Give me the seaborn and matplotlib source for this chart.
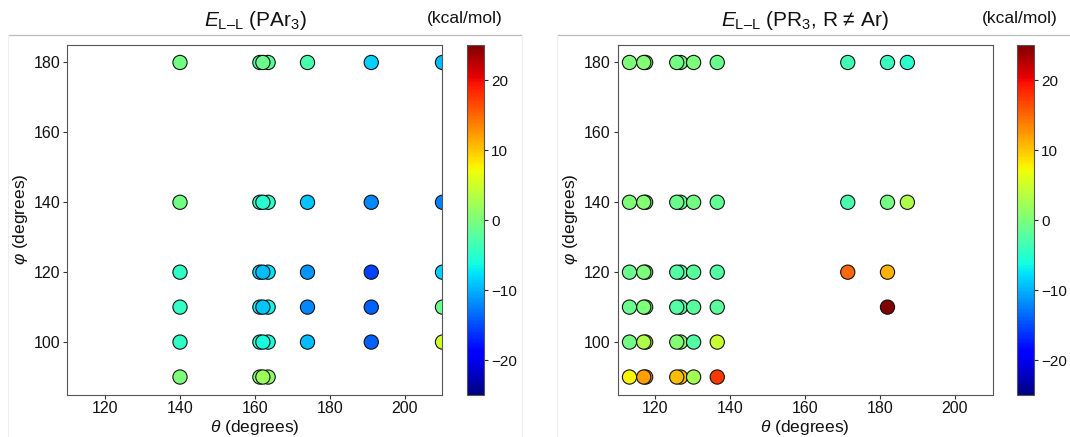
import numpy as np
import pandas as pd
import seaborn as sns
import matplotlib.pyplot as plt
import matplotlib as mpl
from matplotlib.lines import Line2D

# ---- PAr3 : theta / phi grid and E_L-L (kcal/mol) ----
par3_theta = [140, 161.3, 163.5, 162.1, 174, 191, 210] * 5 + [140, 161.3, 163.5, 162.1]
par3_phi = [180] * 7 + [140] * 7 + [120] * 7 + [110] * 7 + [100] * 7 + [90] * 4
par3_E = [
    -0.5, -2.5, -2.0, -1.0, -3.0, -8.5, -9.5,     # phi 180
    -0.5, -4.0, -4.5, -5.0, -9.0, -12.0, -12.5,   # phi 140
    -4.5, -8.0, -7.5, -9.5, -11.5, -15.5, -8.5,   # phi 120
    -4.5, -7.0, -6.5, -9.0, -12.0, -14.0, -1.0,   # phi 110
    -4.5, -5.0, -5.5, -6.0, -9.5, -14.0, 5.0,     # phi 100
    0.0, 0.5, 1.0, 2.0,                           # phi 90
]

# ---- PR3, R != Ar ----
pr3_theta_main = [113.2, 117.5, 117.0, 126.8, 125.8, 130.3, 136.6]
pr3_theta = (pr3_theta_main + [171.4, 182.0, 187.3]
             + pr3_theta_main + [171.4, 182.0, 187.3]
             + pr3_theta_main + [171.4, 182.0]
             + pr3_theta_main + [182.0]
             + pr3_theta_main
             + pr3_theta_main)
pr3_phi = [180] * 10 + [140] * 10 + [120] * 9 + [110] * 8 + [100] * 7 + [90] * 7
pr3_E = [
    0.0, 0.5, 0.5, -0.5, -0.5, 0.0, -1.0, -3.5, -4.0, -5.0,   # phi 180
    0.0, 0.5, 0.5, -1.0, -1.0, -0.5, -1.5, -3.0, -0.5, 3.0,   # phi 140
    -1.0, 0.0, 0.0, -2.5, -2.5, -2.0, -2.5, 15.0, 11.0,       # phi 120
    -1.0, 0.0, 0.0, -2.5, -2.5, -2.0, -2.0, 25.0,             # phi 110
    -0.5, 3.0, 3.0, 0.5, 0.5, -2.5, 4.5,                      # phi 100
    7.5, 12.0, 12.0, 10.5, 10.5, 2.5, 17.5,                   # phi 90
]

vmin, vmax = -25, 25
cbar_ticks = [-20, -10, 0, 10, 20]

sns.set_style('white')
plt.rcParams['font.family'] = ['Liberation Sans', 'DejaVu Sans']
plt.rcParams['mathtext.fontset'] = 'custom'
plt.rcParams['mathtext.rm'] = 'Liberation Sans'
plt.rcParams['mathtext.it'] = 'Liberation Sans:italic'
plt.rcParams['axes.edgecolor'] = '#555555'

jet = plt.get_cmap('jet')

W, H = 1070, 437
fig = plt.figure(figsize=(W / 100, H / 100), dpi=100)

panels = [
    (pd.DataFrame({'theta': par3_theta, 'phi': par3_phi, 'E': par3_E}),
     r'$\mathit{E}_{\mathrm{L–L}}$ (PAr$_3$)', 67.5, 467, 465),
    (pd.DataFrame({'theta': pr3_theta, 'phi': pr3_phi, 'E': pr3_E}),
     r'$\mathit{E}_{\mathrm{L–L}}$ (PR$_3$, R ≠ Ar)', 617.5, 1017, 1020),
]

norm = mpl.colors.Normalize(vmin=vmin, vmax=vmax)
for df, title, ax_x, cb_x, unit_x in panels:
    ax = fig.add_axes([ax_x / W, 1 - 394.5 / H, 375 / W, 349.5 / H])
    sns.scatterplot(data=df, x='theta', y='phi', hue='E', palette=jet,
                    hue_norm=norm, s=105, edgecolor='#111111',
                    linewidth=0.8, legend=False, ax=ax, zorder=3)
    ax.set_xlim(110, 210)
    ax.set_ylim(85, 185)
    ax.set_xticks([120, 140, 160, 180, 200])
    ax.set_yticks([100, 120, 140, 160, 180])
    ax.tick_params(axis='both', labelsize=11.5, length=3, width=0.8,
                   direction='out', bottom=True, left=True, color='#333333',
                   labelcolor='#111111', pad=2)
    ax.set_xlabel(r'$\theta$ (degrees)', fontsize=12.5, labelpad=1, color='#111111')
    ax.set_ylabel(r'$\varphi$ (degrees)', fontsize=12.5, labelpad=3, color='#111111')
    ax.set_title(title, fontsize=15, pad=14, color='#111111')

    cax = fig.add_axes([cb_x / W, 1 - 395 / H, 17 / W, 350 / H])
    sm = mpl.cm.ScalarMappable(norm=norm, cmap=jet)
    cb = fig.colorbar(sm, cax=cax, ticks=cbar_ticks)
    cb.ax.tick_params(labelsize=11, length=3, width=0.8, pad=2,
                      labelcolor='#111111')
    cb.outline.set_edgecolor('#555555')
    fig.text(unit_x / W, 1 - 18 / H, '(kcal/mol)', fontsize=12.5,
             ha='center', va='center', color='#111111')

# panel frames
for x0, x1 in [(8, 522), (557, 1070)]:
    fig.add_artist(Line2D([x0 / W, x1 / W], [1 - 35 / H] * 2,
                          color='#bbbbbb', lw=0.9))
for x in [8, 522, 557]:
    fig.add_artist(Line2D([x / W] * 2, [0, 1 - 35 / H],
                          color='#eeeeee', lw=0.8))

fig.savefig('out.png', dpi=100)
